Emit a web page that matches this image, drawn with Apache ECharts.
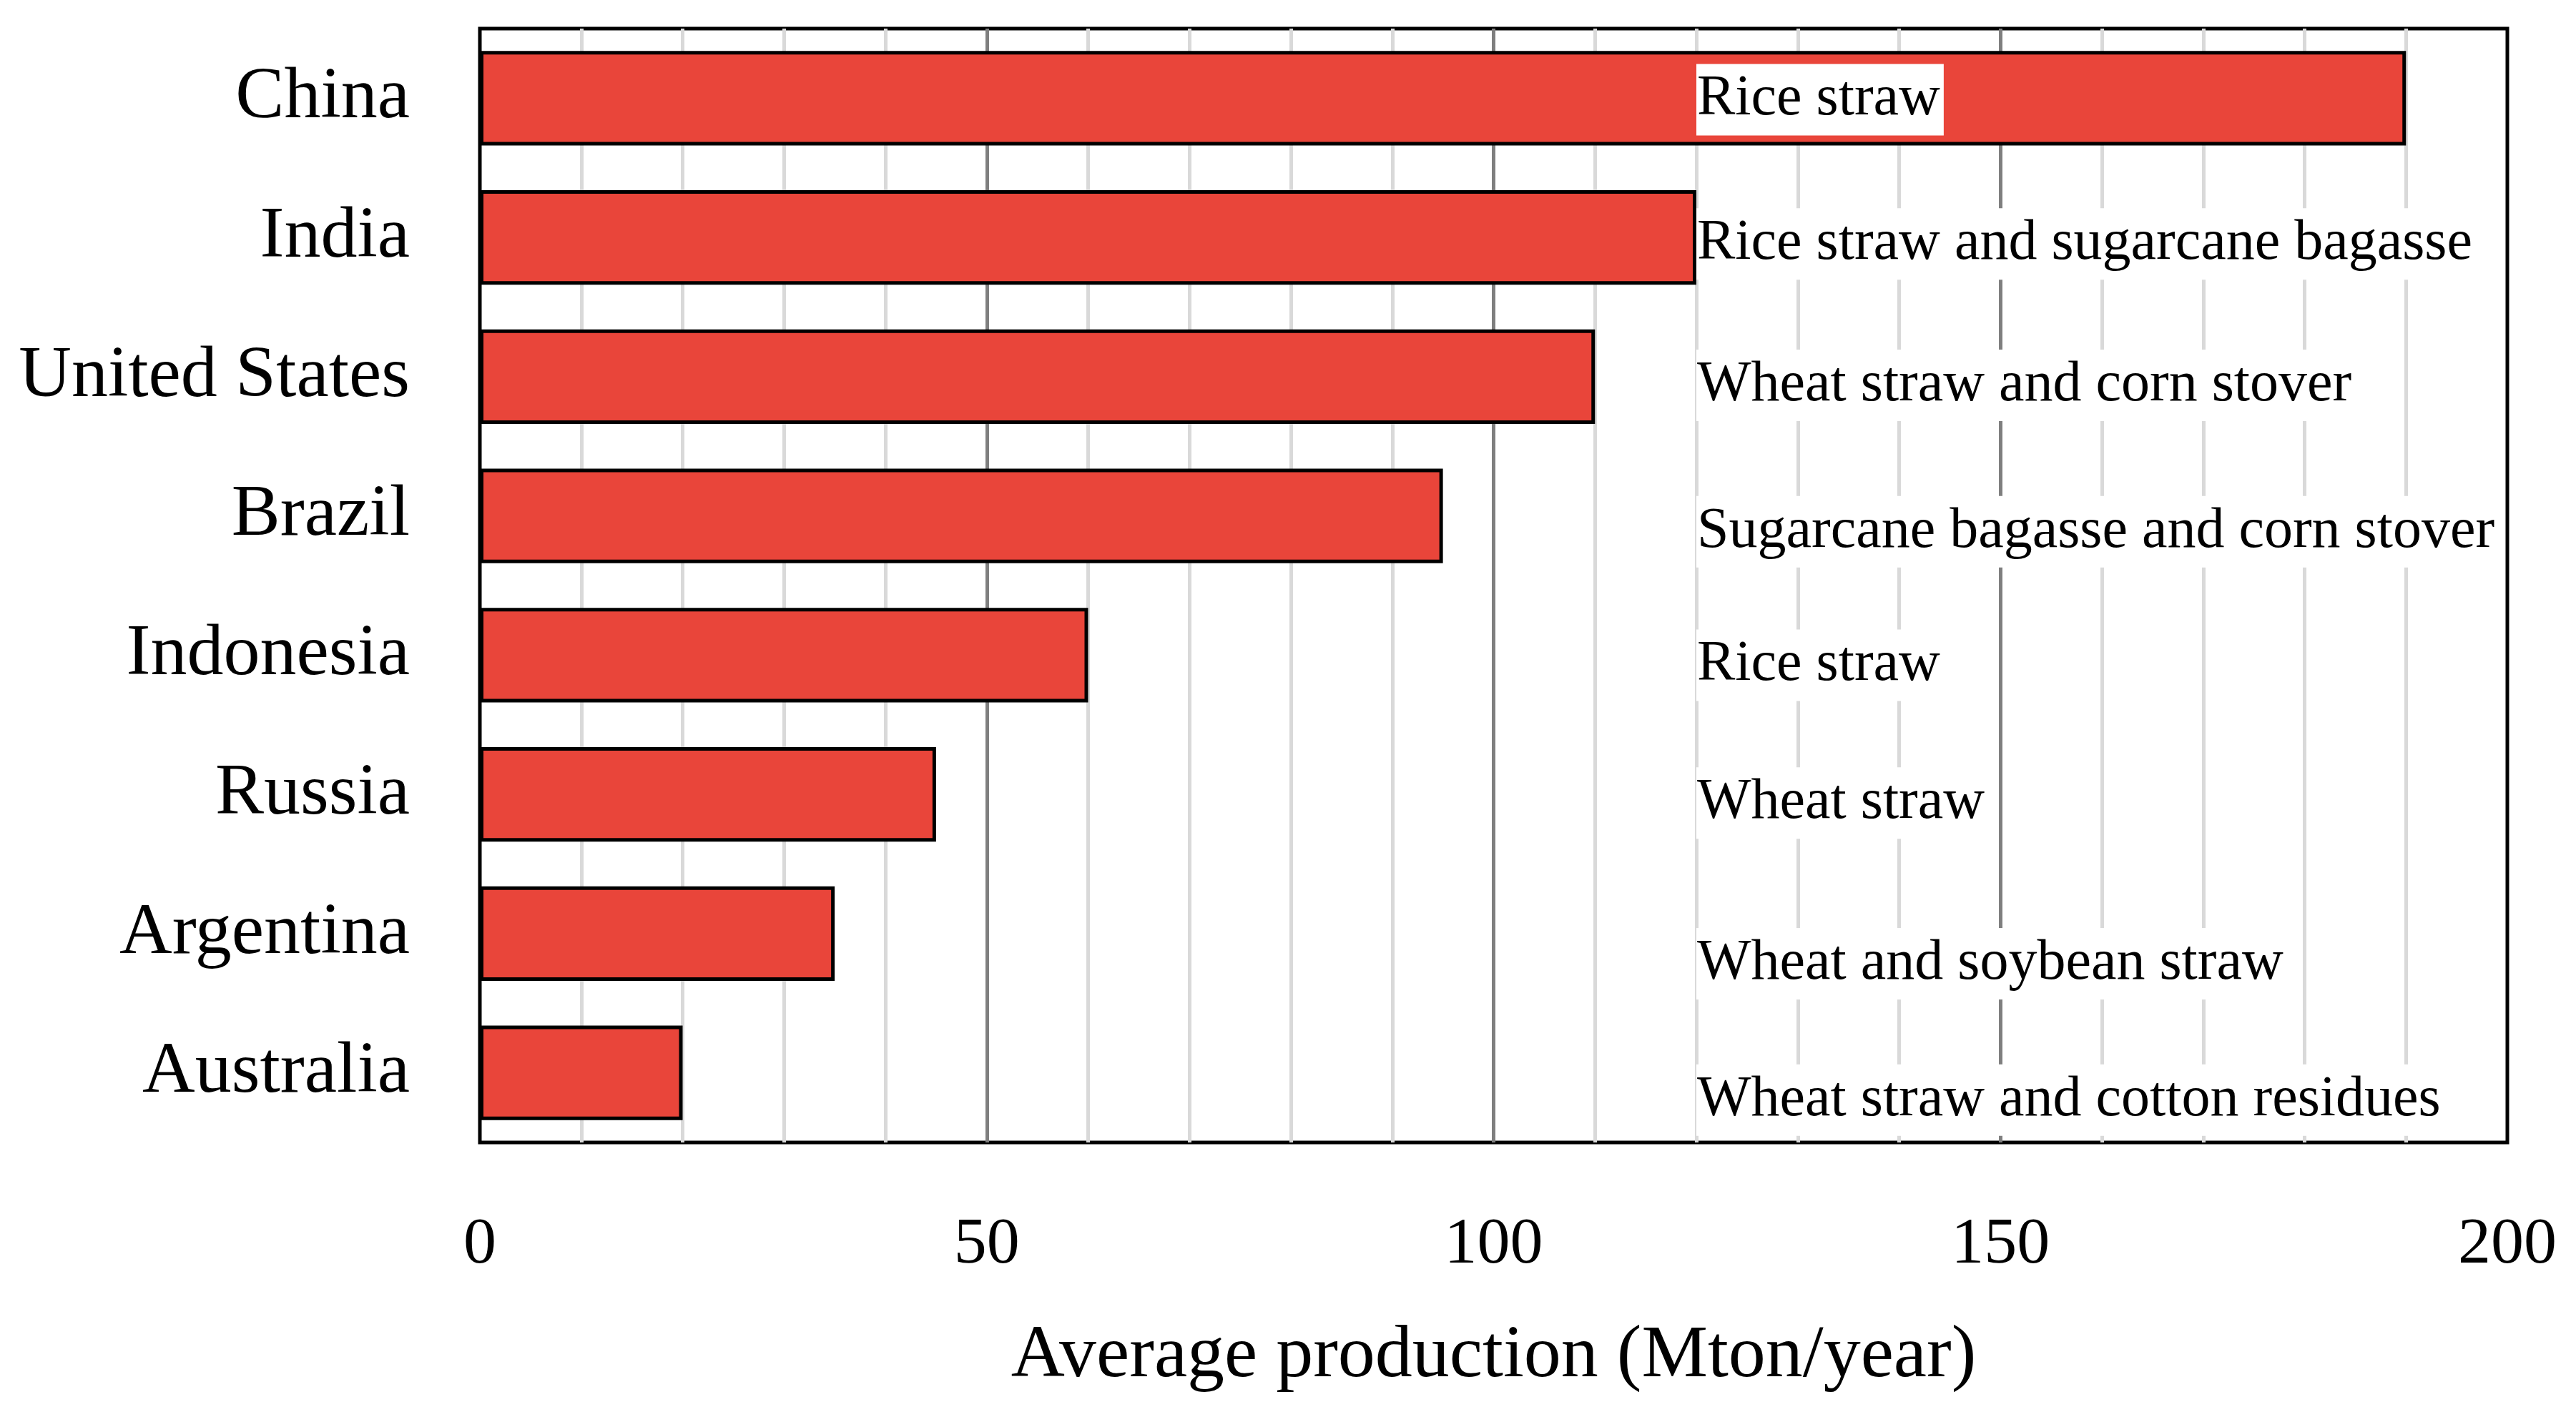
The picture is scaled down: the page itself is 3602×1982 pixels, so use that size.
<!DOCTYPE html>
<html>
<head>
<meta charset="utf-8">
<script src="https://cdn.jsdelivr.net/npm/echarts@6/dist/echarts.min.js"></script>
<style>
  html, body { margin: 0; padding: 0; background: #fff; }
  #chart { width: 3602px; height: 1982px; }
</style>
</head>
<body>
<div id="chart"></div>
<script>
// countries, top to bottom
var countries = ["China", "India", "United States", "Brazil", "Indonesia", "Russia", "Argentina", "Australia"];
// average residue production, Mton/year
var production = [190, 120, 110, 95, 60, 45, 35, 20];
// main residue type per country
var residues = [
  "Rice straw",
  "Rice straw and sugarcane bagasse",
  "Wheat straw and corn stover",
  "Sugarcane bagasse and corn stover",
  "Rice straw",
  "Wheat straw",
  "Wheat and soybean straw",
  "Wheat straw and cotton residues"
];
// x value where the residue notes start
var noteAt = 120;
// small vertical nudges of the notes (px), as placed in the original
var noteShift = [2, 9, 12, 22, 14, 12, 42, 38];

var FONT = "Liberation Serif";

var noteData = countries.map(function (c, i) {
  return {
    value: [noteAt, c],
    label: { offset: [0, noteShift[i]] }
  };
});

var option = {
  backgroundColor: "#ffffff",
  animation: false,
  textStyle: { fontFamily: FONT, color: "#000" },
  grid: {
    left: 671,
    right: 96,
    top: 40,
    bottom: 384,
    show: true,
    borderColor: "#000",
    borderWidth: 5,
    backgroundColor: "transparent"
  },
  xAxis: {
    type: "value",
    min: 0,
    max: 200,
    interval: 50,
    name: "Average production (Mton/year)",
    nameLocation: "middle",
    nameGap: 248,
    nameTextStyle: { fontFamily: FONT, fontSize: 104, color: "#000" },
    axisLine: { show: false },
    axisTick: { show: false },
    axisLabel: { fontFamily: FONT, fontSize: 92, color: "#000", margin: 98 },
    splitLine: {
      show: true,
      showMinLine: false,
      showMaxLine: false,
      lineStyle: { color: "#7f7f7f", width: 5 }
    },
    minorTick: { show: false, splitNumber: 5 },
    minorSplitLine: { show: true, lineStyle: { color: "#d9d9d9", width: 5 } }
  },
  yAxis: {
    type: "category",
    data: countries,
    inverse: true,
    axisLine: { show: false },
    axisTick: { show: false },
    splitLine: { show: false },
    axisLabel: { fontFamily: FONT, fontSize: 102, color: "#000", margin: 98 }
  },
  series: [
    {
      type: "bar",
      data: production,
      barCategoryGap: "32%",
      itemStyle: { color: "#e9453a", borderColor: "#000", borderWidth: 5 },
      z: 2
    },
    {
      type: "scatter",
      data: noteData,
      symbolSize: 0,
      silent: true,
      z: 5,
      itemStyle: { opacity: 1 },
      label: {
        show: true,
        position: "right",
        distance: 0,
        formatter: function (p) { return residues[p.dataIndex]; },
        fontFamily: FONT,
        fontSize: 80,
        color: "#000",
        opacity: 1,
        backgroundColor: "#ffffff",
        padding: [12, 5, 8, 1]
      }
    }
  ]
};

var chart = echarts.init(document.getElementById("chart"));
chart.setOption(option);
</script>
</body>
</html>
